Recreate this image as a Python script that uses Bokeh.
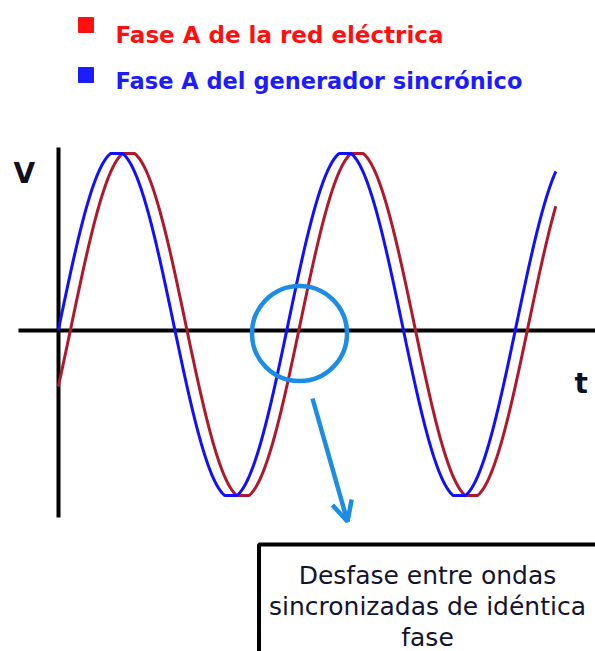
import numpy as np
from bokeh.plotting import figure
from bokeh.models import Arrow, OpenHead, ColumnDataSource, Range1d
from bokeh.core.properties import value
from bokeh.embed import file_html
from bokeh.resources import INLINE

# ---- data ----
PERIOD_DEG = 360          # one cycle of each wave
T_START_DEG = -2
T_END_DEG = 782           # where both traces stop on the right
BLUE_PHASE_DEG = 0        # generator phase A crosses zero at the origin
RED_LAG_DEG = 19          # grid phase A lags by ~19 degrees
AMPLITUDE = 1.0
CENTER = 0.035
CLIP = 1.014              # flat tops seen at the peaks

legend_labels = ["Fase A de la  red eléctrica", "Fase A del generador sincrónico"]
legend_colors = ["#ff1010", "#1c1cff"]
wave_colors = ["#b0182c", "#1010ff"]
note_lines = ["Desfase entre ondas", "sincronizadas de idéntica", "fase"]
axis_labels = ["V", "t"]

# ---- pixel <-> data mapping helpers (reference pixels) ----
W, H = 595, 651
S = 0.6347            # px per degree
X0 = 59               # reference px for t = 0
YA = 330              # reference px of V = 0
SY = 171              # px per unit


def X(px):
    return (px - X0) / S


def Y(py):
    return (YA - py) / SY


p = figure(width=W, height=H, output_backend="svg", toolbar_location=None,
           x_range=Range1d(X(0), X(W)), y_range=Range1d(Y(H), Y(0)),
           min_border=0, x_axis_location=None, y_axis_location=None)
p.grid.visible = False
p.outline_line_color = None
p.background_fill_color = "white"
p.border_fill_color = "white"

# ---- waves ----
t = np.linspace(T_START_DEG, T_END_DEG, 1200)


def wave(phase):
    s = CLIP * np.sin(np.radians(t - phase))
    return CENTER + AMPLITUDE * np.clip(s, -1, 1)


src = ColumnDataSource(dict(t=t, red=wave(BLUE_PHASE_DEG + RED_LAG_DEG), blue=wave(BLUE_PHASE_DEG)))

# axes lines
p.segment(x0=[X(18), X(58)], y0=[0, Y(147)], x1=[X(640), X(58)], y1=[0, Y(517)],
          line_color="black", line_width=4)

p.line("t", "red", source=src, line_color=wave_colors[0], line_width=3, line_join="round")
p.line("t", "blue", source=src, line_color=wave_colors[1], line_width=3, line_join="round")

# axis letters
p.text(x=[X(13), X(574)], y=[Y(173), Y(383)], text=axis_labels,
       text_font=value("DejaVu Sans"), text_font_style="bold", text_font_size="28px",
       text_color="#101020", text_baseline="alphabetic", text_align="left")

# legend
p.scatter(x=[X(85.5), X(85.5)], y=[Y(24.5), Y(74.5)], marker="square", size=15,
          fill_color=legend_colors, line_color=legend_colors)
p.text(x=[X(115), X(115)], y=[Y(34), Y(80)], text=legend_labels,
       text_font=value("DejaVu Sans"), text_font_style="bold",
       text_font_size=["23px", "22.5px"],
       text_color=legend_colors, text_baseline="alphabetic", text_align="left")

# highlight circle and arrow
hl = "#1c8ce4"
p.scatter(x=[X(299)], y=[Y(333)], marker="circle", size=95, fill_color=None,
          line_color=hl, line_width=4.5)
p.add_layout(Arrow(end=OpenHead(size=20, line_color=hl, line_width=4.5),
                   x_start=X(312), y_start=Y(398), x_end=X(347), y_end=Y(521),
                   line_color=hl, line_width=4.5))

# note box
p.quad(left=[X(258.5)], right=[X(700)], top=[Y(544)], bottom=[Y(800)],
       fill_color="white", line_color="black", line_width=4)
p.text(x=[X(427)] * 3, y=[Y(575), Y(605.5), Y(637)], text=note_lines,
       text_font=value("DejaVu Sans"), text_font_size="25px",
       text_color="#14142e", text_baseline="alphabetic", text_align="center")

open("out.html", "w").write(file_html(p, INLINE))
